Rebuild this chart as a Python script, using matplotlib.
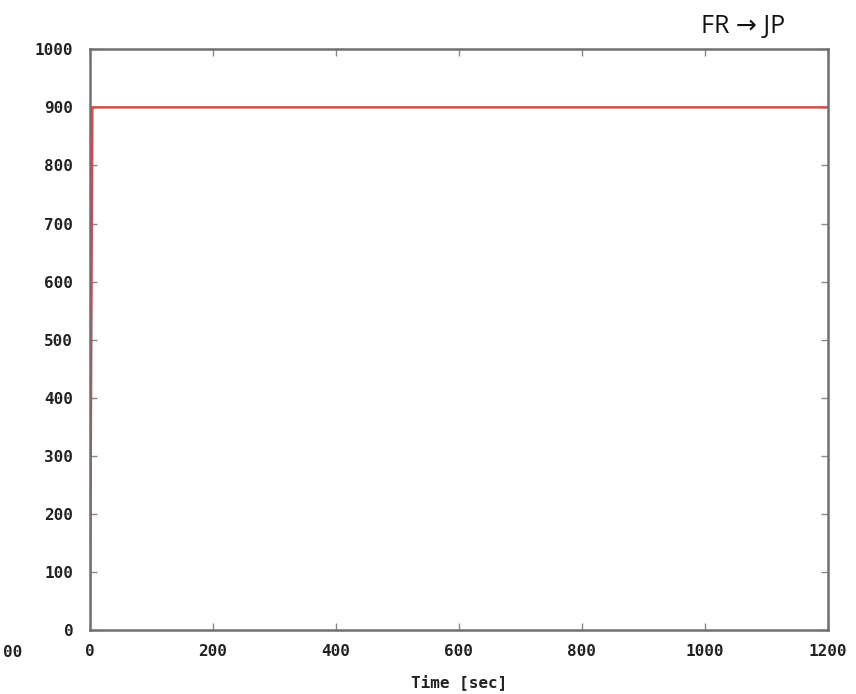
import matplotlib
matplotlib.use("Agg")
import matplotlib.pyplot as plt

# data
time_sec = [0, 4, 1200]
value = [0, 900, 900]
xticks = [0, 200, 400, 600, 800, 1000, 1200]
yticks = [0, 100, 200, 300, 400, 500, 600, 700, 800, 900, 1000]

tick_font = dict(family="DejaVu Sans Mono", weight="bold", size=11.5)

fig = plt.figure(figsize=(8.56, 6.94), dpi=100)
ax = fig.add_axes([0.105, 0.092, 0.862, 0.837])

ax.plot(time_sec, value, color="#e04848", lw=1.8)

ax.set_xlim(0, 1200)
ax.set_ylim(0, 1000)
ax.set_xticks(xticks)
ax.set_yticks(yticks)
ax.set_xticklabels([str(t) for t in xticks], fontdict=tick_font, color="#222222")
ax.set_yticklabels([str(t) for t in yticks], fontdict=tick_font, color="#222222")
ax.tick_params(direction="in", length=5, width=1, color="#888888",
               top=True, right=True, pad=12)
ax.tick_params(axis="x", pad=10)
for s in ax.spines.values():
    s.set_color("#707070")
    s.set_linewidth(1.8)

ax.set_xlabel("Time [sec]", fontdict=dict(family="DejaVu Sans Mono", weight="bold", size=11.5),
              color="#222222", labelpad=11)

# title written over the top right of the picture
fig.text(0.868, 0.962, "FR \u2192 JP", family=["Open Sans", "DejaVu Sans"], size=18,
         ha="center", va="center", color="#111111")
# leftover of the neighbouring panel's axis label
fig.text(0.003, 0.060, "00", fontdict=tick_font, color="#222222",
         ha="left", va="center")

fig.savefig("out.png", dpi=100)
